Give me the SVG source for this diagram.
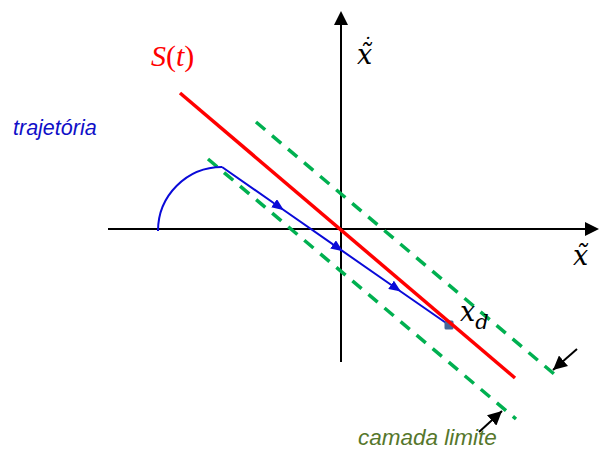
<svg xmlns="http://www.w3.org/2000/svg" width="599" height="457" viewBox="0 0 599 457">
<style>
.axis{stroke:#000;stroke-width:2;fill:none}
.green{stroke:#00b050;stroke-width:3.5;stroke-dasharray:12 9;fill:none}
.red{stroke:#ff0000;stroke-width:3.5;fill:none}
.blue{stroke:#0a0ad8;stroke-width:2;fill:none}
.blk{stroke:#000;stroke-width:2;fill:none}
.math{font-family:"DejaVu Serif","Liberation Serif",serif;font-style:italic}
</style>
<defs>
<marker id="bluetri" viewBox="0 0 12 10" refX="6" refY="5" markerWidth="12" markerHeight="10" markerUnits="userSpaceOnUse" orient="auto">
<path d="M0,0 L12,5 L0,10 z" fill="#0a0ad8"/>
</marker>
<marker id="blkarrow" viewBox="0 0 12 12" refX="12" refY="6" markerWidth="14" markerHeight="14" markerUnits="userSpaceOnUse" orient="auto">
<path d="M0,0 L12,6 L0,12 z" fill="#000"/>
</marker>
</defs>
<g id="axes">
<g id="x-axis">
<line class="axis" x1="108" y1="229" x2="586" y2="229"/>
<path d="M599,229 L585,222 L585,236 z" fill="#000"/>
</g>
<g id="y-axis">
<line class="axis" x1="341" y1="362" x2="341" y2="24"/>
<path d="M341,11 L334,25 L348,25 z" fill="#000"/>
</g>
</g>
<g id="connectors">
<line id="boundary-upper" class="green" x1="256" y1="122" x2="560" y2="379"/>
<line id="boundary-lower" class="green" x1="208" y1="159" x2="516" y2="419"/>
<path id="trajectory" class="blue" d="M158,231 A64,64 0 0 1 222,167" />
<polyline class="blue" points="222,167 279,206.7 338,247.9 396,288.2 449,325" marker-mid="url(#bluetri)"/>
<line id="arrow-upper" class="blk" x1="577" y1="349" x2="553" y2="370" marker-end="url(#blkarrow)"/>
<line id="arrow-lower" class="blk" x1="479" y1="432" x2="502" y2="411" marker-end="url(#blkarrow)"/>
</g>
<g id="xd-point">
<rect x="444.5" y="320.5" width="9" height="9" rx="1.5" fill="#44679a"/>
</g>
<g id="sliding-surface">
<line class="red" x1="180" y1="93" x2="515" y2="378"/>
</g>
<g id="labels">
<text id="label-S" x="151" y="66" font-size="30" fill="#ff0000" font-family="Liberation Serif, DejaVu Serif, serif"><tspan font-style="italic">S</tspan>(<tspan font-style="italic">t</tspan>)</text>
<text id="label-xdot" class="math" x="357" y="64" font-size="27" fill="#000">x̃<tspan font-size="20" dx="-11" dy="-12">˙</tspan></text>
<text id="label-xtilde" class="math" x="573" y="265" font-size="27" fill="#000">x̃</text>
<text id="label-xd" class="math" x="460" y="321" font-size="27" fill="#000">x<tspan font-size="21" dy="8">d</tspan></text>
<text id="label-trajetoria" x="13" y="135" font-size="21.5" fill="#1010c8" font-style="italic" font-family="Liberation Sans, Arial, sans-serif">trajetória</text>
<text id="label-camada" x="358" y="445" font-size="22.5" fill="#56772c" font-style="italic" font-family="Liberation Sans, Arial, sans-serif">camada limite</text>
</g>
</svg>
